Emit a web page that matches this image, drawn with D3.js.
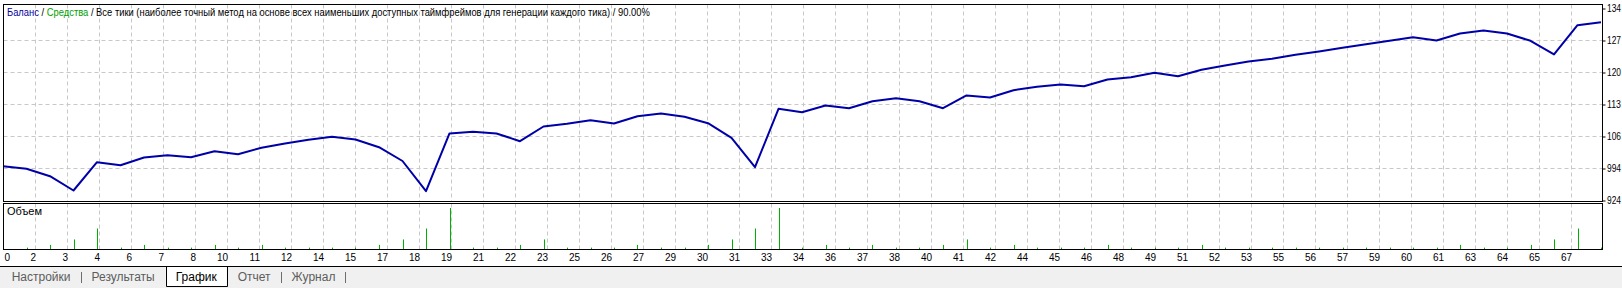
<!DOCTYPE html>
<html>
<head>
<meta charset="utf-8">
<script src="https://cdn.jsdelivr.net/npm/d3@7"></script>
<style>
  html, body { margin: 0; padding: 0; background: #fff; }
  svg { display: block; }
  text { font-family: "Liberation Sans", Arial, sans-serif; }
</style>
</head>
<body>
<svg id="chart" width="1622" height="288"></svg>
<script>
// balance after each trade (trade 0..68)
const balance = [9990, 9933, 9772, 9459, 10078, 10012, 10181, 10231, 10187, 10318,
  10253, 10393, 10487, 10568, 10633, 10574, 10406, 10104, 9443, 10706,
  10743, 10706, 10537, 10859, 10918, 10997, 10924, 11084, 11143, 11071,
  10931, 10612, 9968, 11246, 11172, 11318, 11259, 11412, 11478, 11412,
  11259, 11537, 11493, 11653, 11727, 11778, 11740, 11887, 11937, 12033,
  11959, 12099, 12193, 12281, 12340, 12427, 12499, 12580, 12659, 12733,
  12812, 12740, 12893, 12959, 12893, 12733, 12434, 13075, 13140];

// lot size of each trade
const volume = [0.01, 0.01, 0.03, 0.07, 0.15, 0.01, 0.03, 0.01, 0.01, 0.03,
  0.01, 0.03, 0.01, 0.01, 0.01, 0.01, 0.03, 0.07, 0.15, 0.30,
  0.01, 0.01, 0.03, 0.07, 0.01, 0.01, 0.01, 0.03, 0.01, 0.01,
  0.03, 0.07, 0.15, 0.30, 0.01, 0.03, 0.01, 0.03, 0.01, 0.01,
  0.03, 0.07, 0.01, 0.03, 0.01, 0.01, 0.01, 0.03, 0.01, 0.01,
  0.01, 0.03, 0.01, 0.01, 0.01, 0.01, 0.01, 0.01, 0.01, 0.01,
  0.01, 0.01, 0.03, 0.01, 0.01, 0.03, 0.07, 0.15, 0.01];

const xLabels = ["0", "2", "3", "4", "6", "7", "8", "10", "11", "12", "14", "15", "17", "18", "19",
  "21", "22", "23", "25", "26", "27", "29", "30", "31", "33", "34", "36", "37", "38", "40",
  "41", "42", "44", "45", "46", "48", "49", "51", "52", "53", "55", "56", "57", "59", "60",
  "61", "63", "64", "65", "67"];

const yTicks = [9240, 9940, 10640, 11340, 12040, 12740, 13440];
const yLabels = ["924", "994", "106", "113", "120", "127", "134"];

const tabs = ["Настройки", "Результаты", "График", "Отчет", "Журнал"];
const activeTab = "График";

const header = [
  { text: "Баланс", color: "#0000a0" },
  { text: " / ", color: "#000" },
  { text: "Средства", color: "#00a000" },
  { text: " / Все тики (наиболее точный метод на основе всех наименьших доступных таймфреймов для генерации каждого тика) / 90.00%", color: "#000" }
];

const W = 1622, H = 288;
const frame = { left: 3.5, right: 1602.5, top: 4.5, bottom: 201.5 };
const volFrame = { top: 203.5, bottom: 249.5 };

const svg = d3.select("#chart");

// scales
const xScale = d3.scaleLinear().domain([0, balance.length - 1]).range([3, 1601]);
const gridScale = d3.scaleLinear().domain([0, xLabels.length]).range([3, 1603]);
const yScale = d3.scaleLinear().domain([yTicks[0], yTicks[yTicks.length - 1]]).range([200.5, 8.5]);
const vScale = d3.scaleLinear().domain([0, d3.max(volume)]).range([249, 208]);

function fitWidth(sel, w) {
  const x = +sel.attr("x") || 0;
  const len = sel.node().getComputedTextLength();
  sel.attr("transform", `translate(${x},0) scale(${w / len},1) translate(${-x},0)`);
}

// background
svg.append("rect").attr("width", W).attr("height", H).attr("fill", "#fff");
svg.append("rect").attr("x", 0).attr("y", 267).attr("width", W).attr("height", H - 267).attr("fill", "#f0f0f0");

// grid
const grid = svg.append("g").attr("stroke", "#c8c8c8").attr("stroke-dasharray", "4,3").attr("stroke-width", 1);
const gridIdx = d3.range(1, xLabels.length);
grid.selectAll(".vg").data(gridIdx).enter().append("line")
  .attr("x1", d => Math.round(gridScale(d)) + 0.5).attr("x2", d => Math.round(gridScale(d)) + 0.5)
  .attr("y1", frame.top).attr("y2", frame.bottom);
grid.selectAll(".vv").data(gridIdx).enter().append("line")
  .attr("x1", d => Math.round(gridScale(d)) + 0.5).attr("x2", d => Math.round(gridScale(d)) + 0.5)
  .attr("y1", volFrame.top).attr("y2", volFrame.bottom);
grid.selectAll(".hg").data(yTicks.slice(1, -1)).enter().append("line")
  .attr("x1", frame.left).attr("x2", frame.right)
  .attr("y1", d => yScale(d)).attr("y2", d => yScale(d));

// volume bars
svg.append("g").selectAll("rect").data(volume).enter().append("rect")
  .attr("x", (d, i) => Math.round(xScale(i)))
  .attr("y", d => vScale(d))
  .attr("width", 1)
  .attr("height", d => vScale(0) - vScale(d))
  .attr("fill", "#00b000");

// balance line
svg.append("path")
  .datum(balance)
  .attr("d", d3.line().x((d, i) => xScale(i)).y(d => yScale(d)))
  .attr("fill", "none")
  .attr("stroke", "#0000a8")
  .attr("stroke-width", 2)
  .attr("stroke-linejoin", "round");

// frames
svg.append("rect").attr("x", frame.left).attr("y", frame.top)
  .attr("width", frame.right - frame.left).attr("height", frame.bottom - frame.top)
  .attr("fill", "none").attr("stroke", "#000");
svg.append("rect").attr("x", frame.left).attr("y", volFrame.top)
  .attr("width", frame.right - frame.left).attr("height", volFrame.bottom - volFrame.top)
  .attr("fill", "none").attr("stroke", "#000");

// y axis on the right
const yAxis = svg.append("g")
  .attr("transform", `translate(${frame.right},0)`)
  .call(d3.axisRight(yScale).tickValues(yTicks).tickFormat((d, i) => yLabels[i]).tickSize(3).tickPadding(1.5));
yAxis.select(".domain").remove();
yAxis.selectAll("line").attr("stroke", "#000");
yAxis.selectAll("text").attr("font-size", "10.5px").attr("fill", "#000")
  .attr("font-family", "Liberation Sans, Arial, sans-serif")
  .each(function () { fitWidth(d3.select(this), 14); });

// x axis below the volume panel
const xAxis = svg.append("g")
  .attr("transform", `translate(0,${volFrame.bottom})`)
  .call(d3.axisBottom(gridScale).tickValues(d3.range(xLabels.length)).tickFormat(i => xLabels[i]).tickSize(0));
xAxis.select(".domain").remove();
xAxis.selectAll("text")
  .attr("font-size", "10px").attr("fill", "#000")
  .attr("font-family", "Liberation Sans, Arial, sans-serif")
  .attr("y", 11.5).attr("dy", 0)
  .attr("text-anchor", (d, i) => i === 0 ? "start" : "end")
  .attr("x", (d, i) => i === 0 ? 1 : 0.5);

// header
const head = svg.append("text").attr("x", 7).attr("y", 16).attr("font-size", "11px").attr("xml:space", "preserve");
head.selectAll("tspan").data(header).enter().append("tspan")
  .attr("fill", d => d.color)
  .text(d => d.text);
fitWidth(head, 643);

// volume panel label
svg.append("text").attr("x", 7).attr("y", 215).attr("font-size", "11px").attr("fill", "#000").text("Объем");

// tabs
svg.append("line").attr("x1", 0).attr("x2", W).attr("y1", 266.5).attr("y2", 266.5).attr("stroke", "#000");
const tabG = svg.append("g");
let tx = 1.7;
tabs.forEach((name, i) => {
  const t = tabG.append("text").attr("x", tx + 10).attr("y", 281)
    .attr("font-size", "12px")
    .attr("fill", name === activeTab ? "#000" : "#5c5c5c")
    .text(name);
  const w = t.node().getComputedTextLength();
  if (name === activeTab) {
    tabG.insert("rect", "text").attr("x", tx).attr("y", 267).attr("width", w + 20).attr("height", 19.5).attr("fill", "#fff");
    tabG.append("path")
      .attr("d", `M${Math.round(tx) + 0.5},266.5V286.5H${Math.round(tx + w + 20) + 0.5}V266.5`)
      .attr("fill", "none").attr("stroke", "#000");
  } else if (tabs[i + 1] !== activeTab) {
    tabG.append("line")
      .attr("x1", Math.round(tx + w + 20) + 0.5).attr("x2", Math.round(tx + w + 20) + 0.5)
      .attr("y1", 272).attr("y2", 283)
      .attr("stroke", "#6d6d6d");
  }
  tx += w + 20 + 1;
});
</script>
</body>
</html>
